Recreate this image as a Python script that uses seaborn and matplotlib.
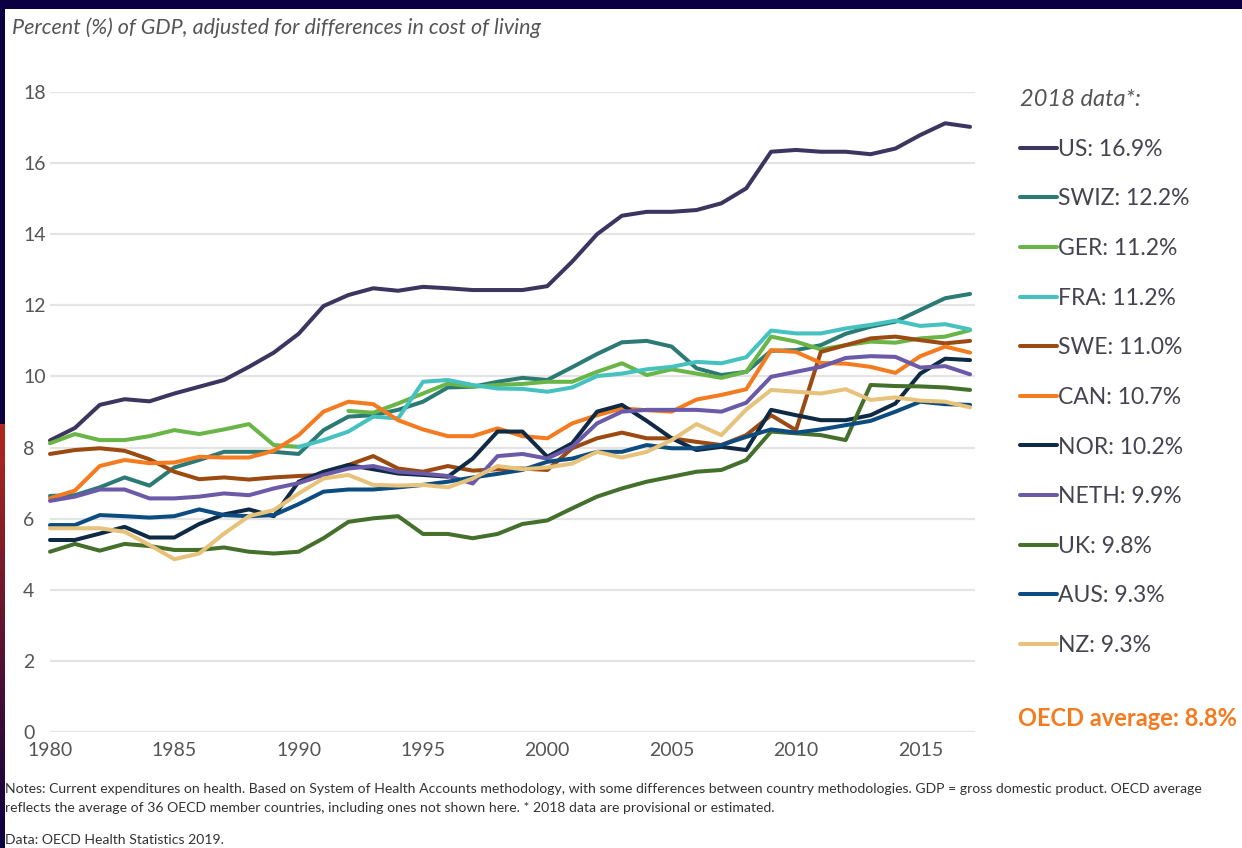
import numpy as np
import pandas as pd
import matplotlib
matplotlib.use("Agg")
import matplotlib.pyplot as plt
from matplotlib.lines import Line2D
import seaborn as sns

years = list(range(1980, 2018))
nan = np.nan

countries = ["US", "SWIZ", "GER", "FRA", "SWE", "CAN", "NOR", "NETH", "UK", "AUS", "NZ"]
labels_2018 = ["US: 16.9%", "SWIZ: 12.2%", "GER: 11.2%", "FRA: 11.2%", "SWE: 11.0%", "CAN: 10.7%",
               "NOR: 10.2%", "NETH: 9.9%", "UK: 9.8%", "AUS: 9.3%", "NZ: 9.3%"]
colors = ["#3b3560", "#2b7a74", "#6ab547", "#45c1c0", "#9b4a12", "#f47b20",
          "#0f2a44", "#6a5aa8", "#44702c", "#0d4c80", "#e6c27a"]

us = [8.2, 8.55, 9.2, 9.36, 9.3, 9.52, 9.71, 9.9, 10.27, 10.67,
      11.2, 11.98, 12.29, 12.48, 12.41, 12.52, 12.48, 12.43, 12.43, 12.43,
      12.54, 13.23, 14.0, 14.52, 14.63, 14.63, 14.68, 14.87, 15.29, 16.32,
      16.37, 16.32, 16.32, 16.25, 16.41, 16.79, 17.12, 17.02]
swiz = [6.64, 6.66, 6.88, 7.16, 6.93, 7.44, 7.65, 7.88, 7.88, 7.88,
        7.82, 8.49, 8.87, 8.91, 9.06, 9.29, 9.69, 9.71, 9.85, 9.96,
        9.9, 10.26, 10.63, 10.96, 11.0, 10.84, 10.23, 10.04, 10.13, 10.72,
        10.74, 10.88, 11.2, 11.4, 11.54, 11.87, 12.2, 12.32]
ger = [8.12, 8.38, 8.21, 8.21, 8.32, 8.49, 8.38, 8.51, 8.66, 8.07,
       8.02, nan, 9.03, 8.98, 9.24, 9.52, 9.8, 9.71, 9.76, 9.79,
       9.85, 9.85, 10.13, 10.37, 10.04, 10.2, 10.08, 9.96, 10.13, 11.12,
       10.98, 10.76, 10.88, 10.98, 10.95, 11.07, 11.12, 11.3]
fra = [nan, nan, nan, nan, nan, nan, nan, nan, nan, nan,
       8.02, 8.21, 8.45, 8.87, 8.82, 9.85, 9.9, 9.76, 9.66, 9.65,
       9.57, 9.69, 10.01, 10.08, 10.2, 10.27, 10.41, 10.37, 10.54, 11.29,
       11.21, 11.21, 11.35, 11.45, 11.57, 11.42, 11.47, 11.32]
swe = [7.82, 7.93, 7.98, 7.91, 7.67, 7.32, 7.11, 7.16, 7.1, 7.16,
       7.2, 7.23, 7.51, 7.76, 7.41, 7.32, 7.48, 7.35, 7.39, 7.41,
       7.37, 7.98, 8.26, 8.42, 8.26, 8.26, 8.16, 8.07, 8.35, 8.91,
       8.49, 10.69, 10.88, 11.07, 11.12, 11.02, 10.93, 11.0]
can = [6.57, 6.79, 7.48, 7.65, 7.56, 7.58, 7.74, 7.72, 7.72, 7.91,
       8.35, 9.01, 9.29, 9.22, 8.77, 8.51, 8.32, 8.32, 8.54, 8.32,
       8.26, 8.68, 8.91, 9.1, 9.05, 9.01, 9.35, 9.48, 9.64, 10.74,
       10.69, 10.38, 10.36, 10.27, 10.1, 10.57, 10.84, 10.67]
nor = [5.4, 5.4, 5.58, 5.77, 5.47, 5.47, 5.85, 6.12, 6.26, 6.07,
       7.04, 7.32, 7.51, 7.39, 7.27, 7.23, 7.18, 7.69, 8.45, 8.45,
       7.74, 8.12, 9.01, 9.2, 8.75, 8.26, 7.93, 8.02, 7.93, 9.06,
       8.91, 8.77, 8.77, 8.91, 9.24, 10.08, 10.5, 10.46]
neth = [6.5, 6.62, 6.82, 6.82, 6.57, 6.57, 6.62, 6.71, 6.66, 6.85,
        7.0, 7.23, 7.41, 7.48, 7.32, 7.27, 7.2, 6.99, 7.76, 7.82,
        7.69, 8.02, 8.68, 9.01, 9.06, 9.06, 9.06, 9.01, 9.26, 9.99,
        10.13, 10.27, 10.52, 10.57, 10.55, 10.25, 10.29, 10.06]
uk = [5.07, 5.29, 5.1, 5.29, 5.23, 5.12, 5.12, 5.19, 5.07, 5.02,
      5.07, 5.45, 5.91, 6.01, 6.07, 5.57, 5.57, 5.45, 5.57, 5.85,
      5.95, 6.29, 6.62, 6.85, 7.04, 7.18, 7.32, 7.37, 7.65, 8.45,
      8.4, 8.35, 8.21, 9.76, 9.73, 9.72, 9.69, 9.62]
aus = [5.82, 5.82, 6.1, 6.07, 6.03, 6.07, 6.26, 6.1, 6.07, 6.1,
       6.41, 6.76, 6.82, 6.82, 6.88, 6.95, 7.04, 7.16, 7.26, 7.37,
       7.6, 7.69, 7.88, 7.88, 8.07, 7.98, 7.98, 8.07, 8.3, 8.51,
       8.42, 8.51, 8.63, 8.75, 9.01, 9.29, 9.22, 9.2]
nz = [5.73, 5.73, 5.73, 5.63, 5.26, 4.86, 5.02, 5.58, 6.07, 6.24,
      6.71, 7.13, 7.23, 6.95, 6.93, 6.95, 6.88, 7.13, 7.48, 7.39,
      7.44, 7.55, 7.88, 7.72, 7.88, 8.21, 8.66, 8.35, 9.07, 9.62,
      9.57, 9.52, 9.64, 9.34, 9.41, 9.32, 9.29, 9.13]

series = [us, swiz, ger, fra, swe, can, nor, neth, uk, aus, nz]

# long table; a "seg" id per unbroken run so gaps (GER 1991) stay gaps
rows = []
for name, vals in zip(countries, series):
    seg = 0
    for yr, v in zip(years, vals):
        if np.isnan(v):
            seg += 1
            continue
        rows.append({"year": yr, "value": v, "country": name, "seg": f"{name}_{seg}"})
df = pd.DataFrame(rows)

sns.set_style("white")
plt.rcParams["font.family"] = ["Lato", "DejaVu Sans"]

fig = plt.figure(figsize=(12.42, 8.48), dpi=100)
fig.patch.set_facecolor("#0b0042")
fig.patches.append(plt.Rectangle((5 / 1242, 0), 1, 1 - 9 / 848, transform=fig.transFigure,
                                 facecolor="white", edgecolor="none", zorder=-5))
# reddish fade on the left border near the bottom
strip = fig.add_axes([0, 0, 5 / 1242, 0.5])
strip.imshow(np.linspace(0, 1, 100).reshape(-1, 1), aspect="auto",
             cmap=matplotlib.colors.LinearSegmentedColormap.from_list("b", ["#b0281e", "#0b0042"]))
strip.axis("off")

ax = fig.add_axes([50 / 1242, 1 - 732 / 848, 925 / 1242, 640 / 848])
ax.set_facecolor("none")
sns.lineplot(data=df, x="year", y="value", hue="country", units="seg", estimator=None,
             hue_order=countries, palette=dict(zip(countries, colors)),
             linewidth=2.9, legend=False, ax=ax)

ax.set_xlim(1980, 2017.2)
ax.set_ylim(0, 18)
ax.set_yticks(range(0, 19, 2))
ax.set_xticks(range(1980, 2016, 5))
ax.grid(axis="y", color="#e4e4e4", linewidth=1.6)
ax.grid(axis="x", visible=False)
ax.set_axisbelow(True)
for s in ax.spines.values():
    s.set_visible(False)
ax.tick_params(axis="both", length=0, labelsize=14, labelcolor="#555555")
ax.tick_params(axis="y", pad=0)
ax.tick_params(axis="x", pad=7)
for lbl in ax.get_yticklabels():
    lbl.set_horizontalalignment("left")
    lbl.set_x(-27 / 925)
ax.set_xlabel("")
ax.set_ylabel("")
for ln in ax.get_lines():
    ln.set_solid_capstyle("round")
    ln.set_clip_on(False)

fig.text(12 / 1242, 1 - 28 / 848, "Percent (%) of GDP, adjusted for differences in cost of living",
         fontsize=15.5, style="italic", color="#555555", va="center")

handles = [Line2D([], [], color=c, linewidth=2.9) for c in colors]
leg = fig.legend(handles, labels_2018, loc="upper left", bbox_to_anchor=(1020 / 1242, 1 - 89 / 848),
                 frameon=False, title="2018 data*:", alignment="left", fontsize=16.5,
                 title_fontsize=17, handlelength=1.6, handletextpad=0.05,
                 labelspacing=1.25, borderpad=0, borderaxespad=0)
leg.get_title().set_fontstyle("italic")
leg.get_title().set_color("#555555")
for t in leg.get_texts():
    t.set_color("#444450")

fig.text(1018 / 1242, 1 - 719 / 848, "OECD average: 8.8%", fontsize=17, fontweight="bold",
         color="#f47b20", va="center")

fig.text(5 / 1242, 1 - 789 / 848,
         "Notes: Current expenditures on health. Based on System of Health Accounts methodology, with some "
         "differences between country methodologies. GDP = gross domestic product. OECD average",
         fontsize=10.1, color="#333333", va="center")
fig.text(5 / 1242, 1 - 808 / 848,
         "reflects the average of 36 OECD member countries, including ones not shown here. "
         "* 2018 data are provisional or estimated.",
         fontsize=10.1, color="#333333", va="center")
fig.text(5 / 1242, 1 - 840 / 848, "Data: OECD Health Statistics 2019.",
         fontsize=10.1, color="#333333", va="center")

fig.savefig("out.png", dpi=100, facecolor=fig.get_facecolor())
